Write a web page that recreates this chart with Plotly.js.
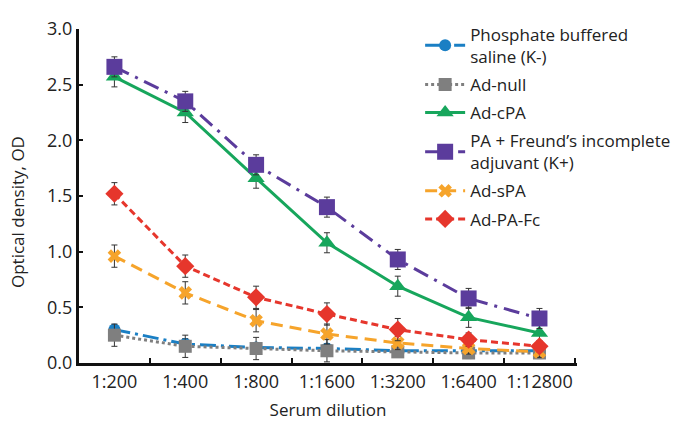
<!DOCTYPE html>
<html><head><meta charset="utf-8">
<script src="https://cdn.plot.ly/plotly-3.0.1.min.js"></script>
<style>body{margin:0;background:#fff}#c{width:699px;height:430px}</style>
</head><body><div id="c"></div>
<script>
const dilutions = ['1:200','1:400','1:800','1:1600','1:3200','1:6400','1:12800'];
const pbs      = [0.30, 0.17, 0.14, 0.13, 0.11, 0.11, 0.11];
const pbsErr   = [0.04, 0.05, 0.04, 0.04, 0.03, 0.03, 0.03];
const adNull   = [0.25, 0.15, 0.13, 0.11, 0.10, 0.09, 0.09];
const adNullErr= [0.10, 0.10, 0.10, 0.10, 0.05, 0.05, 0.05];
const adCPA    = [2.57, 2.25, 1.66, 1.08, 0.69, 0.41, 0.27];
const adCPAErr = [0.09, 0.09, 0.09, 0.09, 0.09, 0.09, 0.09];
const paFreund = [2.66, 2.35, 1.78, 1.40, 0.93, 0.58, 0.40];
const paFreundErr = [0.09, 0.09, 0.09, 0.09, 0.09, 0.09, 0.09];
const adSPA    = [0.96, 0.63, 0.38, 0.26, 0.18, 0.13, 0.10];
const adSPAErr = [0.10, 0.10, 0.10, 0.09, 0.06, 0.05, 0.05];
const adPAFc   = [1.52, 0.87, 0.59, 0.44, 0.30, 0.21, 0.15];
const adPAFcErr= [0.10, 0.10, 0.10, 0.10, 0.10, 0.06, 0.05];

function tr(name, y, err, color, dash, symbol, size, grp) {
  return {
    type:'scatter', mode:'lines+markers', name:name, x:dilutions, y:y, legendgroup:grp,
    line:{color:color, width:3, dash:dash},
    marker:{color:color, symbol:symbol, size:size, line:{width:0}},
    error_y:{type:'data', array:err, visible:true, color:'#333', thickness:1, width:3}
  };
}
const data = [
  tr('Phosphate buffered<br>saline (K-)', pbs, pbsErr, '#1a7fc4', '16px,5px,3px,5px', 'circle', 12, 'g1'),
  tr('Ad-null', adNull, adNullErr, '#7f7f7f', 'dot', 'square', 13, 'g2'),
  tr('Ad-cPA', adCPA, adCPAErr, '#17a65c', 'solid', 'triangle-up', 15, 'g3'),
  tr('PA + Freund’s incomplete<br>adjuvant (K+)', paFreund, paFreundErr, '#5b3c9c', '16px,7px,3px,7px', 'square', 16, 'g4'),
  tr('Ad-sPA', adSPA, adSPAErr, '#f6a42b', '12px,7px', 'x', 12, 'g5'),
  tr('Ad-PA-Fc', adPAFc, adPAFcErr, '#e6362c', '7px,4px', 'diamond', 14, 'g6')
];
const layout = {
  width:699, height:430,
  margin:{l:79, r:122, t:29, b:67},
  paper_bgcolor:'#fff', plot_bgcolor:'#fff',
  font:{family:'Open Sans, sans-serif', size:17, color:'#222'},
  xaxis:{
    range:[-0.5, 6.53], showline:true, linecolor:'#111', linewidth:3,
    ticks:'inside', ticklen:5, tickwidth:2, tickcolor:'#111', tickson:'boundaries',
    tickangle:0, showgrid:false, zeroline:false,
    tickfont:{size:18, color:'#222'},
    title:{text:'Serum dilution', font:{size:17, color:'#222'}, standoff:13}
  },
  yaxis:{
    range:[0, 3], dtick:0.5, tickformat:'.1f', showline:true, linecolor:'#111', linewidth:3,
    ticks:'inside', ticklen:4, tickwidth:2, tickcolor:'#111',
    showgrid:false, zeroline:false,
    tickfont:{size:18, color:'#222'}
  },
  annotations:[{
    text:'Optical density, OD', xref:'paper', yref:'paper', x:-0.1245, y:0.452,
    xanchor:'center', yanchor:'middle', textangle:-90, showarrow:false,
    font:{size:17, color:'#222'}
  }],
  legend:{x:0.685, y:1.037, xanchor:'left', yanchor:'top', bgcolor:'rgba(255,255,255,0)',
    font:{size:17, color:'#222'}, traceorder:'grouped', tracegroupgap:3, itemwidth:40,
    maxheight:1},
  showlegend:true
};
Plotly.newPlot('c', data, layout, {displayModeBar:false});
</script></body></html>
